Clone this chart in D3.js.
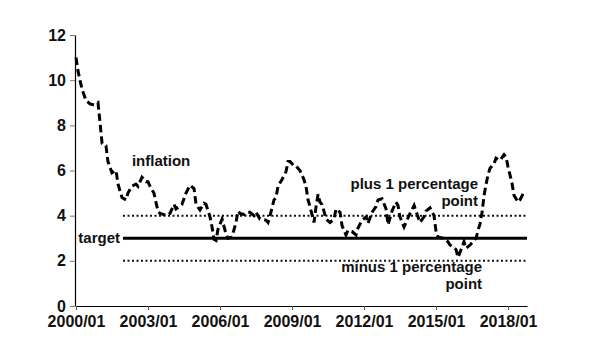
<!DOCTYPE html>
<html>
<head>
<meta charset="utf-8">
<script src="https://cdn.jsdelivr.net/npm/d3@7"></script>
<style>
  html, body { margin: 0; padding: 0; background: #fff; }
  svg text { font-family: "Liberation Sans", Arial, sans-serif; font-weight: bold; fill: #111; }
</style>
</head>
<body>
<svg id="chart" width="600" height="360"></svg>
<script>
// ---- data ----
const months = [
  "2000/01","2000/02","2000/04","2000/06","2000/08","2000/10","2000/12",
  "2001/02","2001/04","2001/05","2001/07","2001/09","2001/10","2001/12",
  "2002/02","2002/03","2002/05","2002/07","2002/08","2002/10","2002/12",
  "2003/01","2003/02","2003/04","2003/06","2003/07","2003/09","2003/10","2003/12",
  "2004/02","2004/03","2004/06","2004/08","2004/10","2004/12",
  "2005/01","2005/03","2005/05","2005/06","2005/08","2005/09","2005/10","2005/11","2005/12",
  "2006/02","2006/04","2006/05","2006/07","2006/09","2006/10","2006/11",
  "2007/01","2007/02","2007/04","2007/06","2007/07","2007/09","2007/12",
  "2008/01","2008/02","2008/04","2008/05","2008/06","2008/08","2008/10","2008/11","2008/12",
  "2009/02","2009/03","2009/05","2009/07","2009/08","2009/09","2009/10","2009/11","2009/12",
  "2010/01","2010/02","2010/03","2010/04","2010/05","2010/06","2010/08","2010/10","2010/11",
  "2011/01","2011/02","2011/04","2011/05","2011/07","2011/09","2011/10","2011/12",
  "2012/02","2012/03","2012/05","2012/07","2012/08","2012/10","2012/12",
  "2013/01","2013/03","2013/05","2013/06","2013/07","2013/09","2013/10","2013/12",
  "2014/02","2014/03","2014/04","2014/05","2014/07","2014/08","2014/10","2014/12",
  "2015/01","2015/02","2015/05","2015/07","2015/08","2015/11","2015/12",
  "2016/02","2016/03","2016/04","2016/06","2016/08","2016/09","2016/10","2016/11","2016/12",
  "2017/01","2017/02","2017/03","2017/04","2017/06","2017/07","2017/09","2017/11","2017/12",
  "2018/01","2018/03","2018/04","2018/06","2018/07","2018/09"
];
const inflation = [
  11.0,10.4,9.6,9.1,8.95,8.9,9.0,
  7.2,7.1,6.4,5.9,6.0,5.4,4.8,
  4.7,5.0,5.3,5.4,5.3,5.7,5.5,
  5.5,5.3,5.0,4.2,4.1,4.05,4.0,4.1,
  4.5,4.3,4.5,5.0,5.35,5.2,
  4.5,4.25,4.55,4.5,3.95,3.5,2.95,2.9,3.4,
  3.85,3.2,3.0,3.05,3.7,4.2,4.1,
  4.05,4.15,4.15,4.0,4.15,3.85,3.8,
  3.7,4.0,4.7,4.8,5.3,5.6,5.95,6.4,6.4,
  6.2,6.2,6.0,5.6,5.3,4.7,4.4,4.05,3.7,
  4.4,4.95,4.6,4.5,4.2,3.85,3.7,3.85,4.3,
  4.15,3.55,3.15,3.35,3.3,3.15,3.45,3.8,
  3.95,3.65,4.15,4.4,4.7,4.75,4.3,
  3.6,4.2,4.6,4.45,3.95,3.5,3.7,4.1,
  4.45,4.2,3.95,3.7,3.95,4.2,4.35,4.0,
  3.3,3.05,3.0,2.85,2.7,2.5,2.15,
  2.6,2.85,2.55,2.7,2.9,3.0,3.35,3.65,4.15,
  4.9,5.4,5.8,6.1,6.3,6.55,6.45,6.7,6.6,
  6.15,5.45,4.9,4.6,4.7,5.05
];
const targetValue = 3;
const bandValues = [4, 2];
const refStart = "2001/12";
const axisStart = "2000/01";
const axisEnd = "2018/10";
const yTicks = [0, 2, 4, 6, 8, 10, 12];
const xTickLabels = ["2000/01","2003/01","2006/01","2009/01","2012/01","2015/01","2018/01"];

// ---- chart ----
const parse = d3.timeParse("%Y/%m");
const svg = d3.select("#chart");
const x = d3.scaleTime()
  .domain([parse(axisStart), d3.timeDay.offset(parse(axisEnd), 15)])
  .range([76, 527]);
const y = d3.scaleLinear().domain([0, 12]).range([306, 35]);

const tickFont = "16px";
// axes
const xAxis = svg.append("g").attr("transform", `translate(0,${y(0)})`)
  .call(d3.axisBottom(x).tickValues(xTickLabels.map(parse))
    .tickFormat(d3.timeFormat("%Y/%m")).tickSize(4).tickPadding(6).tickSizeOuter(0));
xAxis.select(".domain").attr("stroke", "#000").attr("stroke-width", 1.2);
xAxis.selectAll(".tick line").attr("stroke", "#555");
xAxis.selectAll(".tick text").style("font-size", tickFont).style("font-family", '"Liberation Sans", Arial, sans-serif').style("font-weight", "bold").attr("fill", "#111");

const yAxis = svg.append("g").attr("transform", `translate(${x(parse(axisStart)) - 1},0)`)
  .call(d3.axisLeft(y).tickValues(yTicks).tickSize(5).tickPadding(4).tickSizeOuter(0));
yAxis.select(".domain").attr("stroke", "#000").attr("stroke-width", 1.2);
yAxis.selectAll(".tick line").attr("stroke", "#777");
yAxis.selectAll(".tick text").style("font-size", tickFont).style("font-family", '"Liberation Sans", Arial, sans-serif').style("font-weight", "bold").attr("fill", "#111");

// reference lines
const x0 = x(parse(refStart)) + 1, x1 = x.range()[1];
svg.selectAll("line.band").data(bandValues).join("line")
  .attr("class", "band")
  .attr("x1", x0).attr("x2", x1)
  .attr("y1", d => y(d)).attr("y2", d => y(d))
  .attr("stroke", "#111").attr("stroke-width", 2).attr("stroke-dasharray", "2,2.5");
svg.append("line")
  .attr("x1", x0).attr("x2", x1)
  .attr("y1", y(targetValue)).attr("y2", y(targetValue))
  .attr("stroke", "#000").attr("stroke-width", 3);

// inflation line
const pts = months.map((m, i) => ({ d: parse(m), v: inflation[i] }));
svg.append("path").datum(pts)
  .attr("fill", "none").attr("stroke", "#000").attr("stroke-width", 3)
  .attr("stroke-dasharray", "7.5,4")
  .attr("d", d3.line().x(p => x(p.d)).y(p => y(p.v)));

// annotations
const fs = "15px";
svg.append("text").attr("x", x(parse("2002/05"))).attr("y", y(6.2)).style("font-size", fs).text("inflation");
svg.append("text").attr("x", x0 - 3).attr("y", y(targetValue) + 5).attr("text-anchor", "end").style("font-size", fs).text("target");
svg.append("text").attr("x", x(parse("2016/10"))).attr("y", y(5.2)).attr("text-anchor", "end").style("font-size", fs).text("plus 1 percentage");
svg.append("text").attr("x", x(parse("2016/10"))).attr("y", y(4.45)).attr("text-anchor", "end").style("font-size", fs).text("point");
svg.append("text").attr("x", x(parse("2016/12"))).attr("y", y(1.5)).attr("text-anchor", "end").style("font-size", fs).text("minus 1 percentage");
svg.append("text").attr("x", x(parse("2016/12"))).attr("y", y(0.75)).attr("text-anchor", "end").style("font-size", fs).text("point");
</script>
</body>
</html>
